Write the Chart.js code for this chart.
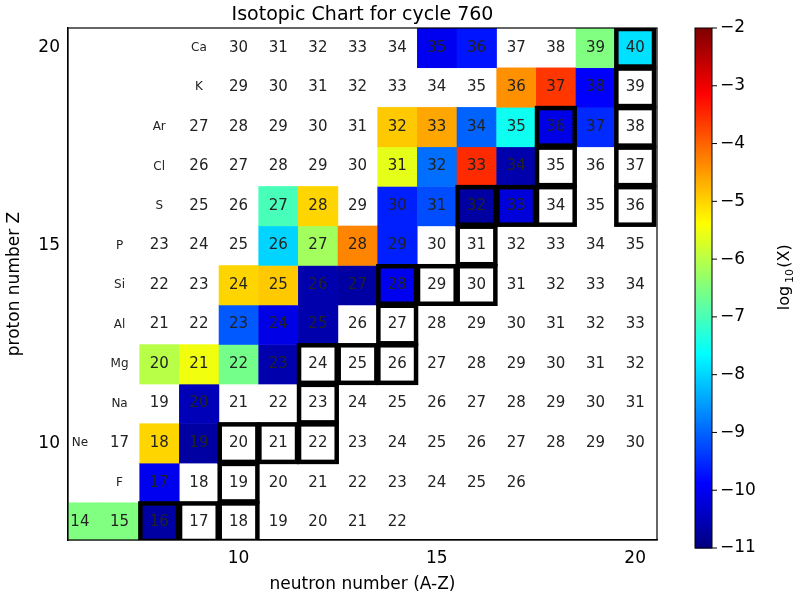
<!DOCTYPE html>
<html><head><meta charset="utf-8">
<script src="https://cdn.jsdelivr.net/npm/chart.js@4/dist/chart.umd.min.js"></script>
<style>body{margin:0;background:#fff}#w{width:800px;height:599px}</style>
</head><body><div id="w"><canvas id="c"></canvas></div>
<script>
// rows: Z, element symbol, first N, last N
const rowZ = [8,9,10,11,12,13,14,15,16,17,18,19,20];
const rowSym = ['', 'F','Ne','Na','Mg','Al','Si','P','S','Cl','Ar','K','Ca'];
const rowNmin = [6,8,7,8,8,8,8,8,9,9,9,10,10];
const rowNmax = [14,17,20,20,20,20,20,20,20,20,20,20,20];
// log10(X) abundances by "Z-A"
const abundance = {
 '20-35':-10.0,'20-36':-9.7,'20-39':-6.5,'20-40':-7.9,
 '19-36':-4.4,'19-37':-3.6,'19-38':-9.9,
 '18-32':-4.9,'18-33':-4.6,'18-34':-9.0,'18-35':-7.5,'18-36':-10.1,'18-37':-9.5,
 '17-31':-5.6,'17-32':-8.9,'17-33':-3.5,'17-34':-10.6,
 '16-27':-7.0,'16-28':-5.0,'16-30':-9.6,'16-31':-9.2,'16-32':-10.7,'16-33':-10.2,
 '15-26':-8.0,'15-27':-6.2,'15-28':-4.3,'15-29':-9.6,
 '14-24':-5.0,'14-25':-4.9,'14-26':-10.6,'14-27':-10.7,'14-28':-10.0,
 '13-23':-9.1,'13-24':-10.1,'13-25':-10.6,
 '12-20':-6.0,'12-21':-5.5,'12-22':-6.6,'12-23':-10.6,
 '11-20':-10.5,
 '10-18':-5.0,'10-19':-10.7,
 '9-17':-10.0,
 '8-14':-6.5,'8-15':-6.5,'8-16':-10.7
};
const stable = ['8-16','8-17','8-18','9-19','10-20','10-21','10-22','11-23','12-24','12-25','12-26','13-27',
 '14-28','14-29','14-30','15-31','16-32','16-33','16-34','16-36','17-35','17-37','18-36','18-38','19-39','20-40'];
const vmin=-11, vmax=-2;
const cbTicks=[-2,-3,-4,-5,-6,-7,-8,-9,-10,-11];

function jet(f){
  f=Math.max(0,Math.min(1,f));
  const r=Math.min(Math.max(1.5-Math.abs(4*f-3),0),1);
  const g=Math.min(Math.max(1.5-Math.abs(4*f-2),0),1);
  const b=Math.min(Math.max(1.5-Math.abs(4*f-1),0),1);
  return `rgb(${Math.round(r*255)},${Math.round(g*255)},${Math.round(b*255)})`;
}
const F="'DejaVu Sans', sans-serif";
const cells={id:'cells',
 beforeDatasetsDraw(ch){
  const {ctx,scales:{x,y},chartArea:a}=ch;
  ctx.save();ctx.beginPath();ctx.rect(a.left,a.top,a.right-a.left,a.bottom-a.top);ctx.clip();
  const w=Math.abs(x.getPixelForValue(1)-x.getPixelForValue(0));
  const h=Math.abs(y.getPixelForValue(0)-y.getPixelForValue(1));
  rowZ.forEach((Z,i)=>{
    for(let N=rowNmin[i];N<=rowNmax[i];N++){
      const k=Z+'-'+(N+Z);
      if(abundance[k]!==undefined){
        ctx.fillStyle=jet((abundance[k]-vmin)/(vmax-vmin));
        ctx.fillRect(x.getPixelForValue(N-0.5),y.getPixelForValue(Z+0.5),w+0.5,h+0.5);
      }
    }
  });
  ctx.strokeStyle='#000';ctx.lineWidth=4.5;
  stable.forEach(k=>{
    const [Z,A]=k.split('-').map(Number);const N=A-Z;
    ctx.strokeRect(x.getPixelForValue(N-0.5)+1,y.getPixelForValue(Z+0.5)+1,w-2,h-2);
  });
  ctx.fillStyle='#222';ctx.textAlign='center';ctx.textBaseline='middle';
  rowZ.forEach((Z,i)=>{
    for(let N=rowNmin[i];N<=rowNmax[i];N++){
      ctx.font='15px '+F;
      ctx.fillText(String(N+Z),x.getPixelForValue(N),y.getPixelForValue(Z));
    }
    if(rowSym[i]){ctx.font='12px '+F;ctx.fillText(rowSym[i],x.getPixelForValue(rowNmin[i]-1),y.getPixelForValue(Z));}
  });
  ctx.restore();
 },
 afterDraw(ch){
  const ctx=ch.ctx,a=ch.chartArea;
  ctx.save();
  ctx.strokeStyle='#000';ctx.lineWidth=1.2;ctx.strokeRect(a.left,a.top,a.right-a.left,a.bottom-a.top);
  ctx.fillStyle='#000';ctx.font='19px '+F;ctx.textAlign='center';ctx.textBaseline='bottom';
  ctx.fillText('Isotopic Chart for cycle 760',(a.left+a.right)/2,a.top-3);
  const L=695,R=712,T=28,B=548;
  for(let p=T;p<B;p++){ctx.fillStyle=jet(1-(p-T)/(B-T));ctx.fillRect(L,p,R-L,1.5);}
  ctx.strokeStyle='#000';ctx.lineWidth=1;ctx.strokeRect(L,T,R-L,B-T);
  ctx.fillStyle='#000';
  ctx.font='17px '+F;ctx.textAlign='left';ctx.textBaseline='middle';
  cbTicks.forEach(v=>{const p=T+(vmax-v)/(vmax-vmin)*(B-T);
    ctx.beginPath();ctx.moveTo(R,p);ctx.lineTo(R+5,p);ctx.stroke();
    ctx.fillText('\u2212'+Math.abs(v),R+8,p);});
  ctx.translate(785,(T+B)/2);ctx.rotate(-Math.PI/2);ctx.textAlign='center';
  ctx.font='16px '+F;ctx.fillText('log',-10,0);
  ctx.font='11px '+F;ctx.fillText('10',12,5);
  ctx.font='16px '+F;ctx.fillText('(X)',32,0);
  ctx.restore();
 }};
new Chart(document.getElementById('c'),{
 type:'scatter',
 data:{datasets:[{data:[],pointRadius:0}]},
 options:{responsive:true,maintainAspectRatio:false,animation:false,
  layout:{padding:{top:28,right:143,left:0,bottom:0}},
  plugins:{legend:{display:false},tooltip:{enabled:false}},
  scales:{
   x:{type:'linear',min:5.7,max:20.55,
     afterBuildTicks(s){s.ticks=[10,15,20].map(v=>({value:v}));},
     afterFit(s){s.height=59;},
     grid:{display:false,drawTicks:true,tickLength:5,tickColor:'#000'},
     border:{color:'#000',width:1.2},
     ticks:{color:'#000',font:{size:17,family:F},padding:3},
     title:{display:true,text:'neutron number (A-Z)',color:'#000',font:{size:17,family:F},padding:{top:2}}},
   y:{type:'linear',min:7.55,max:20.5,
     afterBuildTicks(s){const t=[];for(let v=8;v<=20;v++)t.push({value:v});s.ticks=t;},
     afterFit(s){s.width=68;},
     grid:{display:false,drawTicks:true,tickLength:5,tickColor:'#000'},
     border:{color:'#000',width:1.2},
     ticks:{color:'#000',font:{size:17,family:F},padding:3,callback:v=>v%5===0?v:''},
     title:{display:true,text:'proton number Z',color:'#000',font:{size:17,family:F},padding:{bottom:4}}}
  }},
 plugins:[cells]
});
</script></body></html>
